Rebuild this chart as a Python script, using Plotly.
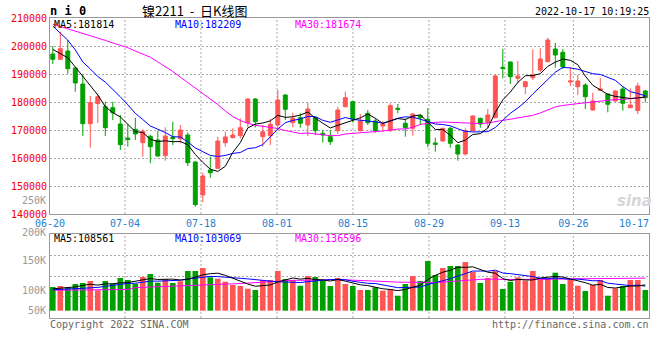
import plotly.graph_objects as go

# ---------------- data ----------------
dates = [
    "06-20", "06-21", "06-22", "06-23", "06-24", "06-27", "06-28", "06-29", "06-30", "07-01",
    "07-04", "07-05", "07-06", "07-07", "07-08", "07-11", "07-12", "07-13", "07-14", "07-15",
    "07-18", "07-19", "07-20", "07-21", "07-22", "07-25", "07-26", "07-27", "07-28", "07-29",
    "08-01", "08-02", "08-03", "08-04", "08-05", "08-08", "08-09", "08-10", "08-11", "08-12",
    "08-15", "08-16", "08-17", "08-18", "08-19", "08-22", "08-23", "08-24", "08-25", "08-26",
    "08-29", "08-30", "08-31", "09-01", "09-02", "09-05", "09-06", "09-07", "09-08", "09-09",
    "09-13", "09-14", "09-15", "09-16", "09-19", "09-20", "09-21", "09-22", "09-23", "09-26",
    "09-27", "09-28", "09-29", "09-30", "10-10", "10-11", "10-12", "10-13", "10-14", "10-17",
]

open_ = [
    197140, 195250, 198210, 192140, 186430, 172250, 179460, 178320, 177960, 172140,
    167140, 170250, 165460, 167750, 166430, 160820, 167390, 166890, 168210, 158570,
    146790, 155710, 156320, 165460, 167250, 167960, 172610, 181070, 167610, 167960,
    171790, 182500, 172610, 174390, 171790, 174500, 168820, 167610, 169750, 178320,
    180110, 169750, 175960, 173210, 171430, 169750, 177750, 172390, 170610, 175110,
    173820, 165360, 166070, 170610, 164640, 161430, 169750, 174180, 172750, 174390,
    192390, 194290, 188460, 185460, 188680, 191430, 194390, 198930, 197750, 187140,
    185460, 186070, 177140, 184180, 182860, 180360, 184640, 177960, 176960, 183930,
]
high = [
    200000, 205110, 202140, 192500, 189890, 182140, 183040, 180110, 180110, 175360,
    172040, 174390, 170250, 168320, 169750, 170960, 172960, 171790, 169180, 158900,
    154750, 160460, 167610, 169390, 170610, 174180, 181390, 181400, 171790, 173930,
    184290, 182800, 176180, 175960, 179750, 174700, 170000, 170000, 178320, 183680,
    180400, 175710, 177140, 174180, 173210, 179540, 179290, 174180, 175960, 175610,
    177750, 167250, 170820, 171180, 164900, 170610, 175300, 174400, 177500, 189890,
    198930, 194500, 194640, 187500, 198820, 199180, 202960, 201070, 198930, 192390,
    189640, 186680, 183320, 188680, 183100, 184200, 185710, 184890, 186890, 184290,
]
low = [
    193570, 195000, 190110, 183680, 167860, 163680, 172500, 167860, 173570, 162860,
    164040, 166430, 160460, 158110, 160460, 159040, 164640, 165250, 157140, 142610,
    144180, 152960, 156070, 164040, 167040, 167040, 170960, 170960, 164040, 164640,
    170000, 173570, 170960, 170820, 167860, 168210, 165460, 164640, 168570, 178100,
    172610, 169500, 171790, 169040, 169390, 169390, 175960, 167610, 167960, 171790,
    163820, 162250, 165820, 163680, 159040, 160820, 169500, 170820, 170610, 174180,
    188460, 186430, 186790, 182860, 187860, 190610, 194200, 192250, 191790, 185710,
    182500, 177500, 176900, 183930, 176320, 180110, 176890, 177800, 175710, 179890,
]
close = [
    195250, 199040, 191890, 186790, 172250, 179750, 181890, 170820, 176180, 164750,
    166610, 168570, 169540, 164040, 160710, 167860, 166890, 170000, 158320, 143320,
    153570, 154750, 166070, 167500, 168210, 170820, 181070, 172960, 169390, 172040,
    180710, 177390, 174180, 172390, 177500, 169750, 168210, 165820, 177140, 181540,
    173930, 173210, 172610, 169750, 172040, 178680, 177390, 170820, 175710, 174390,
    165250, 164890, 170610, 165250, 161430, 169640, 175000, 172140, 175360, 189290,
    192040, 189040, 189290, 187250, 189640, 195360, 202140, 196790, 192610, 187500,
    187500, 181890, 180360, 184640, 179180, 183930, 179540, 178930, 185710, 181540,
]
ma5 = [
    198800, 197300, 195800, 192500, 189040, 185940, 182510, 178300, 176180, 174680,
    172050, 169390, 169130, 166700, 165890, 166140, 165810, 165900, 164760, 161280,
    158420, 155990, 155210, 157040, 162020, 165470, 170730, 172110, 172490, 173260,
    175230, 174500, 174740, 175340, 176430, 174240, 172410, 170730, 171680, 172490,
    173330, 174330, 175690, 174210, 172310, 173260, 174090, 173740, 174930, 175400,
    172710, 170210, 170170, 168080, 165490, 166360, 168390, 168690, 170710, 176290,
    180770, 183570, 187000, 189380, 189450, 190120, 192740, 194240, 195310, 194880,
    193310, 189260, 185970, 184380, 182710, 182000, 181530, 181240, 181460, 181810,
]
ma10 = [
    207100, 204700, 202100, 198600, 194300, 191800, 189100, 187100, 184600, 181860,
    179000, 175950, 173720, 171440, 170290, 169100, 167600, 167520, 165730, 163590,
    162280, 160900, 160550, 160900, 161650, 161950, 163360, 163660, 164770, 167640,
    170350, 172620, 173430, 173920, 174850, 174740, 173450, 172740, 173510, 174460,
    173790, 173370, 173210, 172950, 172400, 173290, 174210, 174710, 174570, 173850,
    172990, 172150, 171950, 171500, 170440, 169540, 169300, 169430, 169400, 170890,
    173570, 175980, 177850, 180050, 182870, 185440, 188160, 190620, 192350, 192170,
    191710, 191000, 190100, 189840, 188900, 187750, 185490, 183710, 183020, 182210,
]
ma30 = [
    207800, 207000, 206100, 205300, 204500, 203600, 202800, 202000, 201100, 200300,
    199400, 198200, 197100, 196000, 194300, 192700, 190900, 188900, 187000, 185000,
    183200, 181100, 179100, 176800, 174800, 173400, 172400, 171700, 171300, 171030,
    170540, 169820, 169230, 168750, 168930, 168590, 168140, 167970, 168000, 168560,
    168810, 168960, 169060, 169250, 169630, 169990, 170340, 170370, 170950, 171980,
    172370, 172710, 172860, 172790, 172560, 172520, 172320, 172290, 172490, 173070,
    173450, 173830, 174340, 174830, 175240, 176090, 177220, 178250, 178770, 178970,
    179420, 179710, 179970, 180460, 180700, 180880, 180950, 181220, 181550, 181670,
]
volume = [
    99600, 103800, 98300, 112200, 116400, 124800, 85700, 124800, 113400, 137400,
    129000, 113400, 141600, 154200, 117600, 133200, 116400, 123500, 166800, 166800,
    179400, 140300, 134500, 121800, 108000, 103800, 92400, 87000, 129000, 129000,
    166800, 133200, 129000, 105000, 145800, 141600, 126100, 103800, 137400, 112200,
    103800, 87000, 87000, 98300, 84000, 89900, 63000, 112200, 145800, 124800,
    208800, 150000, 179400, 187800, 187800, 204600, 162600, 116400, 137400, 166800,
    91200, 121800, 140300, 126100, 166800, 131900, 136100, 159700, 112200, 129000,
    105000, 82800, 108000, 129000, 63000, 94100, 103800, 129000, 129000, 87000,
]
vol_ma5 = [
    92000, 94000, 96000, 100000, 106100, 111100, 107500, 112800, 113000, 117200,
    118100, 123600, 127000, 135100, 131200, 132000, 132600, 129000, 131500, 141300,
    150600, 155400, 157600, 148600, 136800, 121700, 112100, 102600, 104000, 108200,
    120800, 129000, 137400, 132600, 136000, 130900, 129500, 124500, 130900, 124200,
    116700, 108800, 105500, 97700, 92000, 89200, 84400, 89500, 99000, 107100,
    130900, 148300, 161800, 170200, 182800, 181900, 184400, 171800, 161800, 157600,
    134900, 126700, 131500, 129200, 129200, 137400, 140200, 144100, 141300, 133800,
    128400, 117700, 107400, 110800, 97600, 95400, 99600, 103800, 103800, 108560,
]
vol_ma10 = [
    88000, 89000, 90000, 92000, 94000, 96000, 98000, 102000, 106000, 111600,
    114600, 115500, 119900, 124100, 124200, 125000, 128100, 128000, 133300, 136300,
    141300, 144000, 143300, 140000, 139100, 136100, 133700, 130100, 126300, 122500,
    121300, 120600, 120000, 118300, 122100, 125900, 129300, 130900, 131800, 130100,
    123800, 119200, 115000, 114300, 108100, 103000, 96600, 97500, 98300, 99600,
    110100, 116400, 125600, 134600, 145000, 156400, 166400, 166800, 166000, 170200,
    158400, 155600, 151700, 145500, 143400, 136100, 133500, 137800, 135300, 131500,
    132900, 129000, 125800, 126100, 115700, 111900, 108700, 105600, 107300, 103070,
]
vol_ma30 = [
    86000, 86000, 86500, 87000, 87000, 87500, 87500, 88000, 88000, 88500,
    89000, 97000, 98000, 99000, 100000, 101000, 102000, 104000, 105000, 107000,
    109000, 110000, 111000, 111500, 112000, 114000, 116000, 118000, 121000, 123500,
    125700, 126700, 127700, 127500, 128500, 129000, 130400, 129700, 130500, 129600,
    128800, 127900, 126100, 124200, 123100, 121700, 119900, 119500, 118800, 117400,
    118400, 118700, 120200, 122400, 125100, 128400, 130800, 131700, 132000, 133300,
    130800, 130400, 130800, 131500, 132200, 131800, 132200, 134000, 133200, 133800,
    133800, 133700, 134400, 135400, 134700, 134800, 136200, 136700, 136200, 136600,
]

price_ticks = [140000, 150000, 160000, 170000, 180000, 190000, 200000, 210000]
date_ticks = ["06-20", "07-04", "07-18", "08-01", "08-15", "08-29", "09-13", "09-26", "10-17"]
vol_tick_labels = ["250K", "200K", "150K", "100K", "50K"]
ma_labels = ["MA5:181814", "MA10:182209", "MA30:181674"]
vol_ma_labels = ["MA5:108561", "MA10:103069", "MA30:136596"]
header_left = "n i 0"
header_title = "镍2211  -  日K线图"
header_time = "2022-10-17 10:19:25"
footer_left = "Copyright 2022 SINA.COM"
footer_right = "http://finance.sina.com.cn"

# ---------------- style / layout ----------------
W, H = 660, 360
ML, MR, MT, MB = 50, 11, 18, 42
PW, PH = W - ML - MR, H - MT - MB
MONO = "DejaVu Sans Mono"
RED, GREEN = "#ff5555", "#00a000"
MA_COLORS = ["#000000", "#0000ff", "#ff00ff"]
GRID = "#aaaaaa"


def px(x):
    return (x - ML) / PW


def py(y):
    return (MT + PH - y) / PH


idx = list(range(len(dates)))
x_lo = -0.373
x_hi = x_lo + PW / 7.5

fig = go.Figure()
fig.add_trace(go.Candlestick(
    x=idx, open=open_, high=high, low=low, close=close,
    increasing=dict(line=dict(color=RED, width=1), fillcolor=RED),
    decreasing=dict(line=dict(color=GREEN, width=1), fillcolor=GREEN),
    whiskerwidth=0, xaxis="x", yaxis="y", showlegend=False, hoverinfo="skip"))
for vals, col in [(ma30, MA_COLORS[2]), (ma10, MA_COLORS[1]), (ma5, MA_COLORS[0])]:
    fig.add_trace(go.Scatter(x=idx, y=vals, mode="lines", line=dict(color=col, width=1),
                             xaxis="x", yaxis="y", showlegend=False, hoverinfo="skip"))

bar_colors = [RED if c >= o else GREEN for o, c in zip(open_, close)]
fig.add_trace(go.Bar(x=idx, y=volume, marker=dict(color=bar_colors, line=dict(width=0)),
                     xaxis="x2", yaxis="y2", showlegend=False, hoverinfo="skip"))
for vals, col in [(vol_ma30, MA_COLORS[2]), (vol_ma10, MA_COLORS[1]), (vol_ma5, MA_COLORS[0])]:
    fig.add_trace(go.Scatter(x=idx, y=vals, mode="lines", line=dict(color=col, width=1),
                             xaxis="x2", yaxis="y2", showlegend=False, hoverinfo="skip"))

# x tick / grid positions (the original's grid runs on a slightly wider step)
tick_x = [1.0133 * dates.index(d) - 0.507 for d in date_ticks]
grid_x = tick_x[1:-1]
tick_x[0] = x_lo + 0.01
tick_x[-1] = x_hi - 2.0

main_bottom = py(214)
vol_top = py(234.3)

fig.update_layout(
    width=W, height=H,
    margin=dict(l=ML, r=MR, t=MT, b=MB, pad=0),
    paper_bgcolor="white", plot_bgcolor="white",
    font=dict(family=MONO, size=10, color="#000"),
    showlegend=False, bargap=0.25, boxgap=0.25,
    xaxis=dict(domain=[0, 1], anchor="y", range=[x_lo, x_hi], showgrid=False, zeroline=False,
               tickmode="array", tickvals=tick_x, ticktext=date_ticks, ticks="",
               ticklabelstandoff=0,
               tickfont=dict(family=MONO, size=10, color="#1f7fd0"),
               showline=True, linecolor="#999", linewidth=1, mirror=True,
               rangeslider=dict(visible=False), fixedrange=True),
    xaxis2=dict(domain=[0, 1], anchor="y2", range=[x_lo, x_hi], matches="x",
                showticklabels=False, showgrid=False, zeroline=False, ticks="",
                showline=True, linecolor="#999", linewidth=1, mirror=True,
                rangeslider=dict(visible=False)),
    yaxis=dict(domain=[main_bottom, 1], anchor="x", range=[140000, 210000],
               tickmode="array", tickvals=price_ticks, ticktext=[str(v) for v in price_ticks],
               tickfont=dict(family=MONO, size=10, color="#ee0000"), ticks="",
               showgrid=True, gridcolor=GRID, griddash="2px,2px", gridwidth=1, zeroline=False,
               showline=True, linecolor="#999", linewidth=1, mirror=True),
    yaxis2=dict(domain=[0, vol_top], anchor="x2", range=[-30700, 321000],
                showticklabels=False, ticks="", tick0=57700, dtick=87900,
                showgrid=True, gridcolor=GRID, griddash="2px,2px", gridwidth=1, zeroline=False,
                showline=True, linecolor="#999", linewidth=1, mirror=True),
)

shapes = []
for g in grid_x:
    for yr in ["y domain", "y2 domain"]:
        shapes.append(dict(type="line", xref="x", yref=yr, x0=g, x1=g, y0=0, y1=1,
                           line=dict(color=GRID, width=1, dash="2px,2px"), layer="below"))
fig.update_layout(shapes=shapes)

ann = []
# header
ann.append(dict(text="<b>" + header_left + "</b>", x=px(49), y=py(11), xanchor="left", yanchor="middle",
                font=dict(family=MONO, size=12, color="#000")))
ann.append(dict(text=header_title, x=px(194.5), y=py(11), xanchor="center", yanchor="middle",
                font=dict(family="Noto Sans CJK SC", size=13, color="#000")))
ann.append(dict(text=header_time, x=px(650), y=py(11.5), xanchor="right", yanchor="middle",
                font=dict(family=MONO, size=10, color="#000")))
# MA legends
label_x = [53, 174, 294]
for t, lx, col in zip(ma_labels, label_x, MA_COLORS):
    ann.append(dict(text=t, x=px(lx), y=py(24), xanchor="left", yanchor="middle",
                    font=dict(family=MONO, size=10, color=col)))
for t, lx, col in zip(vol_ma_labels, label_x, MA_COLORS):
    ann.append(dict(text=t, x=px(lx), y=py(238.8), xanchor="left", yanchor="middle",
                    font=dict(family=MONO, size=10, color=col)))
# volume axis labels (as placed in the original)
for t, ly in zip(vol_tick_labels, [200.7, 232.0, 260.7, 290, 310]):
    ann.append(dict(text=t, x=px(47), y=py(ly), xanchor="right", yanchor="middle",
                    font=dict(family=MONO, size=10, color="#999")))
# footer
ann.append(dict(text=footer_left, x=px(49), y=py(324), xanchor="left", yanchor="middle",
                font=dict(family=MONO, size=10, color="#666")))
ann.append(dict(text=footer_right, x=px(650), y=py(324), xanchor="right", yanchor="middle",
                font=dict(family=MONO, size=10, color="#666")))
# watermark
ann.append(dict(text="<i><b>sina</b></i>", x=px(634), y=py(201), xanchor="center", yanchor="middle",
                font=dict(family="DejaVu Sans", size=15, color="#d6d6d6")))
for a in ann:
    a.update(xref="paper", yref="paper", showarrow=False, borderpad=0)
fig.update_layout(annotations=ann)

fig.write_html("out.html", config={"displayModeBar": False},
               post_script="document.body.style.margin='0';document.body.style.overflow='hidden';")
